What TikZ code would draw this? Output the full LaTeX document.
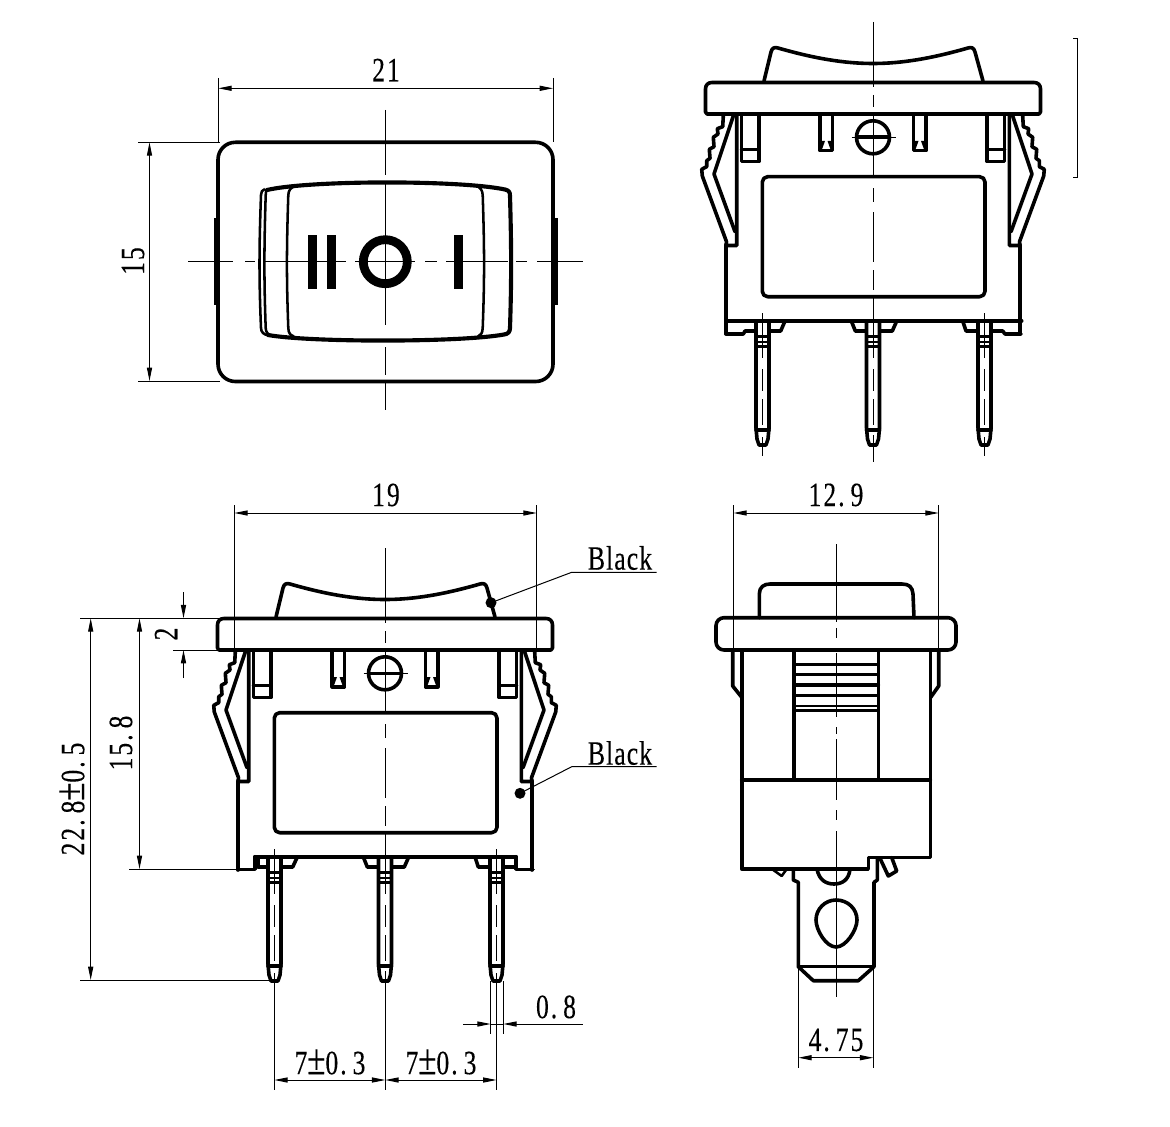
\documentclass[tikz,border=0pt]{standalone}
\usepackage{fontspec}
\usetikzlibrary{arrows.meta}
\newfontfamily\dimfont[FakeStretch=0.75,LetterSpace=6,FakeBold=0.25]{Liberation Serif}
\newfontfamily\lblfont[FakeStretch=0.76,LetterSpace=3,FakeBold=0.25]{Liberation Serif}
\newcommand{\dotgap}{.\kern 4.5pt\relax}
\newcommand{\plusminus}{{\fontsize{33pt}{26pt}\selectfont ±}}
\tikzset{
  heavy/.style={line width=2.7pt,line join=round,line cap=round},
  mid/.style={line width=1.9pt,line join=round},
  thin line/.style={line width=0.75pt},
  dimtip/.tip={Triangle[length=10pt,width=3.8pt]},
  dimline/.style={thin line,{dimtip}-{dimtip}},
  dimtext/.style={font=\fontsize{25.5pt}{26pt}\dimfont,inner sep=0pt},
  lbltext/.style={font=\fontsize{25.5pt}{26pt}\lblfont,inner sep=0pt}
}
% --- one side of the front view (left side; mirrored for right)
\newcommand{\clipside}{%
  \draw[heavy] (-149.7,116) -- (-150.3,126.7) -- (-155.7,128.7) -- (-155,134) -- (-159.7,137.3) -- (-159,146.7) -- (-163.7,149.3) -- (-163,158.3) -- (-166.3,160.7) -- (-166.3,166.7) -- (-171.3,169.3) -- (-170.7,176) -- (-146.5,241.7) -- (-147,245.5) -- (-136.3,245.5) -- (-136.3,115);
  \draw[heavy] (-139.7,116) -- (-159,174) -- (-138,231.7);
  \draw[heavy] (-147,245) -- (-147,334);
  \draw[heavy] (-131.5,116) -- (-131.5,161.5) -- (-114,161.5) -- (-114,116);
  \draw[heavy] (-131.5,149.5) -- (-114,149.5);
  \draw[heavy] (-53,116) -- (-53,150.7) -- (-40.5,150.7) -- (-40.5,116);
  \fill[black] (-53,141) -- (-48,141) -- (-51.5,150.7) -- (-53,150.7) -- cycle;
  \fill[black] (-40.5,141) -- (-45.5,141) -- (-42,150.7) -- (-40.5,150.7) -- cycle;
}
\newcommand{\pinshape}[1]{%
  \begin{scope}[shift={(#1,0)}]
    \draw[heavy] (-6.5,321) -- (-6.5,428) -- (-5.5,439) -- (-3.5,445) -- (3.5,445) -- (5.5,439) -- (6.5,428) -- (6.5,321);
    \draw[heavy] (-6.5,430) -- (6.5,430);
    \draw[mid] (-6.5,336.7) -- (6.5,336.7) (-6.5,346.7) -- (6.5,346.7);
    \draw[line width=1.2pt] (-6.5,341.7) -- (6.5,341.7);
    \draw[thin line] (0,313) -- (0,358) (0,369) -- (0,391) (0,399) -- (0,425) (0,437) -- (0,456);
  \end{scope}%
}
\newcommand{\frontcommon}{%
  % rocker
  \draw[heavy] (-109,81) -- (-102,52) .. controls (-101,47.5) and (-98,47) .. (-95,48) .. controls (-60,58) and (-30,63.5) .. (0,63.5) .. controls (30,63.5) and (60,58) .. (95,48) .. controls (98,47) and (101,47.5) .. (102,52) -- (110,81);
  % flange
  \draw[heavy] (-161,82.5) -- (161,82.5) .. controls (165,82.5) and (167.5,85) .. (167.5,89) -- (167.5,112) -- (166,114) -- (-166,114) -- (-167.5,112) -- (-167.5,89) .. controls (-167.5,85) and (-165,82.5) .. (-161,82.5) -- cycle;
  \clipside
  \begin{scope}[xscale=-1]\clipside\end{scope}
  % screw
  \draw[heavy] (0,137.3) circle[radius=16.5];
  \draw[heavy] (-16,137.3) -- (16,137.3);
  \draw[thin line] (-21.5,137.3) -- (23,137.3);
  % window
  \draw[heavy,rounded corners=4] (-110.7,176.7) rectangle (112,296.7);
  % centre line
  \draw[thin line] (0,95) -- (0,107) (0,115) -- (0,176) (0,188) -- (0,202) (0,212) -- (0,262) (0,270) -- (0,290) (0,298) -- (0,358) (0,369) -- (0,391) (0,399) -- (0,425);
  % bottom line and pins
  \draw[heavy] (-130,320.7) -- (131,320.7);
  \pinshape{-110.5}\pinshape{0}\pinshape{111.5}
  % centre feet
  \draw[heavy] (-21.7,321) -- (-17.7,331) -- (-7,331);
  \draw[heavy] (7,331) -- (19.3,331) -- (23.7,321);
}
\begin{document}
\begin{tikzpicture}[x=0.75pt,y=-0.75pt]
\useasboundingbox (0,0) rectangle (1170,1127);
\fill[white] (0,0) rectangle (1170,1127);
% ============ top-left view
\draw[heavy,rounded corners=13] (218,142.3) rectangle (553,381.5);
\fill[black] (213.5,218) rectangle (218,305);
\fill[black] (553,218) rectangle (558,305);
\draw[heavy,line width=3.1pt] (267,190) .. controls (310,180) and (460,180) .. (505,189.5) .. controls (509,190.5) and (510,192) .. (510,196) .. controls (511.5,250) and (511.5,280) .. (510,328) .. controls (510,332) and (508,334) .. (504,334.5) .. controls (460,342.5) and (310,342.5) .. (268,335);
\draw[mid] (265,189) .. controls (262,190) and (261,192) .. (261,195) .. controls (259,250) and (259,280) .. (261,328) .. controls (261,332) and (264,335) .. (268,335);
\draw[mid] (268,189.5) .. controls (266,190) and (265.7,192) .. (265.7,195) .. controls (264,250) and (264,280) .. (265.7,328) .. controls (265.7,332) and (268,335) .. (272,335.5);
\draw[mid] (296,186) .. controls (291,187) and (288.5,190) .. (288.3,195) .. controls (286.5,250) and (286.5,280) .. (288.3,328) .. controls (288.5,333) and (290,335) .. (294,336.5);
\draw[mid] (476,186) .. controls (480,187) and (482.5,190) .. (482.7,195) .. controls (484.5,250) and (484.5,280) .. (482.7,328) .. controls (482.5,333) and (481,335) .. (478,336.5);
\fill[black] (308.3,235) rectangle (317.3,288.5);
\fill[black] (327,235) rectangle (336,288.5);
\fill[black] (454,235) rectangle (463.3,288.5);
\draw[line width=6.6pt] (385.3,261.7) circle[radius=22];
\draw[thin line] (188,261.7) -- (233,261.7) (245,261.7) -- (255,261.7) (265,261.7) -- (346,261.7) (355,261.7) -- (415,261.7) (425,261.7) -- (437,261.7) (446,261.7) -- (508,261.7) (516,261.7) -- (527,261.7) (537,261.7) -- (583,261.7);
\draw[thin line] (385.3,110) -- (385.3,175) (385.3,182) -- (385.3,325) (385.3,347) -- (385.3,375) (385.3,382) -- (385.3,410);
% dimensions top-left
\draw[thin line] (218.3,78) -- (218.3,142) (553,78) -- (553,142);
\draw[dimline] (218.3,88.3) -- (553,88.3);
\node[dimtext] (d21) at (386,70) {21};
\draw[thin line] (138,142.3) -- (220,142.3) (138,381) -- (220,381);
\draw[dimline] (149.5,142.3) -- (149.5,381);
\node[dimtext,rotate=90] (d15) at (133,261) {15};
% ============ top-right view
\begin{scope}[shift={(873,0)}]
  \frontcommon
  \draw[thin line] (0,22) -- (0,87) (0,435) -- (0,462);
  % bottom corners
  \draw[heavy] (-147,320.7) -- (-130,320.7) (131,320.7) -- (148.7,320.7);
  \draw[heavy] (-147,334) -- (-129.7,334) -- (-128,331) -- (-117,331);
  \draw[heavy] (-104,331) -- (-92.3,331) -- (-88,321);
  \draw[heavy] (89.7,321) -- (93,331) -- (105,331);
  \draw[heavy] (118,331) -- (129.7,331) -- (132,334) -- (148,334);
\end{scope}
\draw[thin line] (1073.3,38.3) -- (1077.7,38.3) -- (1077.7,177.7) -- (1073.3,177.7);
% ============ bottom-left view
\begin{scope}[shift={(385,536)}]
  \frontcommon
  \draw[thin line] (0,12) -- (0,87) (0,435) -- (0,554);
  \draw[heavy] (-147,333.3) -- (-130,333.3) -- (-130,320.7);
  \draw[heavy] (131,320.7) -- (131,333.3) -- (148,333.3);
  \draw[heavy] (-127,331) -- (-117,331) (-127,321) -- (-127,331);
  \draw[heavy] (-103.5,331) -- (-92.3,331) -- (-87.7,321);
  \draw[heavy] (90,321) -- (93.3,331) -- (105,331);
  \draw[heavy] (118,331) -- (129,331);
\end{scope}
% black marks
\fill[black] (491,602.7) circle[radius=5.5];
\fill[black] (520,793.3) circle[radius=5.5];
\draw[thin line] (491,602.7) -- (571.7,572.3) -- (656.7,572.3);
\draw[thin line] (520,793.3) -- (571.7,766.7) -- (656.7,766.7);
\node[lbltext] (lb1) at (620,558) {Black};
\node[lbltext] (lb2) at (620,753) {Black};
% dimensions bottom-left
\draw[thin line] (234.3,505) -- (234.3,650) (536.7,505) -- (536.7,650);
\draw[dimline] (234.3,513) -- (536.7,513);
\node[dimtext] (d19) at (386,495) {19};
\draw[thin line] (80,618.3) -- (219,618.3) (173,650) -- (219,650) (129,869) -- (238,869) (80,980) -- (272,980);
\draw[dimline] (90.7,618.3) -- (90.7,980);
\draw[dimline] (139.5,618.3) -- (139.5,869);
\draw[thin line,-{dimtip}] (183.5,592) -- (183.5,618.3);
\draw[thin line,-{dimtip}] (183.5,678) -- (183.5,650);
\node[dimtext,rotate=90] (d2) at (166,634) {2};
\node[dimtext,rotate=90] (d158) at (121,743) {15\dotgap 8};
\node[dimtext,rotate=90] (d228) at (72,799) {22\dotgap 8\plusminus 0\dotgap 5};
\draw[thin line] (274.3,981) -- (274.3,1090) (385.3,990) -- (385.3,1090) (496.5,981) -- (496.5,1090) (490.7,981) -- (490.7,1034) (503.3,981) -- (503.3,1034);
\draw[dimline] (274.3,1080) -- (385.3,1080);
\draw[dimline] (385.3,1080) -- (496.5,1080);
\node[dimtext] (d7a) at (330,1062) {7\plusminus 0\dotgap 3};
\node[dimtext] (d7b) at (441,1062) {7\plusminus 0\dotgap 3};
\draw[thin line,-{dimtip}] (463,1024) -- (490.7,1024);
\draw[thin line,-{dimtip}] (582.7,1024) -- (503.3,1024);
\draw[thin line] (490.7,1024) -- (503.3,1024);
\node[dimtext] (d08) at (556,1007) {0\dotgap 8};
% ============ bottom-right view
\draw[heavy] (759.3,617.7) -- (759.3,594) .. controls (759.3,587) and (764,584) .. (770,584) -- (902,584) .. controls (909,584) and (912.5,587) .. (913,594) -- (914,617.7);
\draw[heavy,rounded corners=6] (716,650) -- (716,617.7) -- (956,617.7) -- (956,650) -- cycle;
\draw[heavy] (732.7,651) -- (732.7,686) -- (741.7,697.3);
\draw[heavy] (938.7,651) -- (938.7,686) -- (930.7,697.3);
\draw[heavy] (741.7,650) -- (741.7,869) -- (868.3,869) -- (868.3,857.3) -- (930.3,857.3) -- (930.3,650);
\draw[heavy] (741.7,780) -- (930.3,780);
\draw[heavy] (794,650) -- (794,780);
\draw[heavy] (878.3,650) -- (878.3,780);
\draw[mid] (794,664.3) -- (878.3,664.3) (794,674.3) -- (878.3,674.3) (794,695.7) -- (878.3,695.7) (794,706) -- (878.3,706) (794,710.7) -- (878.3,710.7);
\draw[heavy] (794,684.7) -- (878.3,684.7);
% terminal
\draw[heavy] (793.3,869) -- (793.3,880) -- (798.3,882.3) -- (798.3,966.7) -- (813.3,980.7) -- (858.3,980.7) -- (874,966.7) -- (874,882.3) -- (877.3,880) -- (877.3,858);
\draw[mid] (798.3,966.7) -- (874,966.7);
\draw[heavy] (817,869) .. controls (819,880) and (826,884) .. (834,884) .. controls (842,884) and (849,880) .. (850,869);
\draw[heavy] (836,900) .. controls (848,900) and (857,909) .. (857,920) .. controls (857,930) and (846,947) .. (836,947) .. controls (826,947) and (816,930) .. (816,920) .. controls (816,909) and (825,900) .. (836,900) -- cycle;
\draw[mid] (773.3,870) -- (781.7,876) -- (786,870);
\draw[heavy] (880,858.3) -- (888.3,876) -- (896.7,871) -- (891.7,857.5);
% centre line
\draw[thin line] (836.3,544) -- (836.3,622) (836.3,628) -- (836.3,638) (836.3,653) -- (836.3,717) (836.3,727) -- (836.3,734) (836.3,739) -- (836.3,800) (836.3,810) -- (836.3,820) (836.3,831) -- (836.3,997);
% dimensions bottom-right
\draw[thin line] (733.4,505) -- (733.4,650) (938.7,505) -- (938.7,650);
\draw[dimline] (733.4,513) -- (938.7,513);
\node[dimtext] (d129) at (836,495) {12\dotgap 9};
\draw[thin line] (798.3,967) -- (798.3,1068) (873.3,967) -- (873.3,1068);
\draw[dimline] (798.3,1057.7) -- (873.3,1057.7);
\node[dimtext] (d475) at (836,1040) {4\dotgap 75};
\end{tikzpicture}
\end{document}
